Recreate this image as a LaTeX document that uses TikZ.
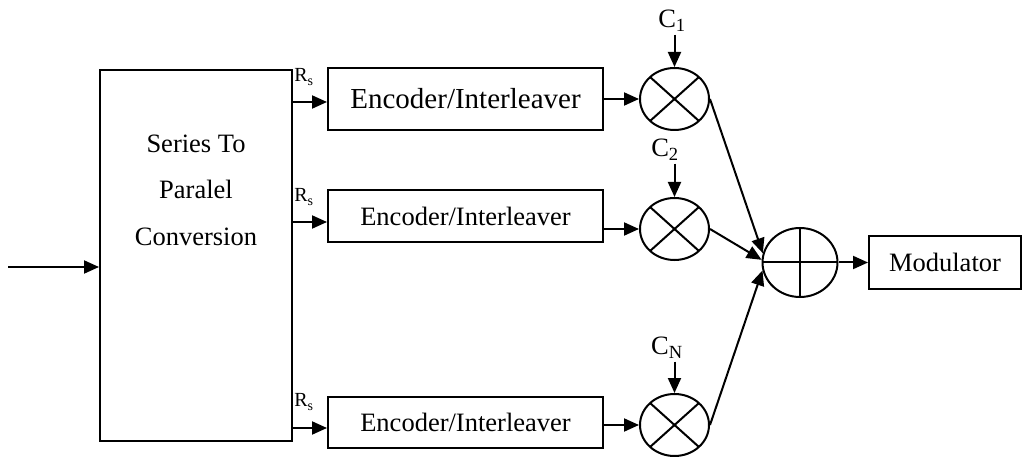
\documentclass[tikz,border=0pt]{standalone}
\usepackage{fontspec}
\setmainfont{Liberation Serif}
\usetikzlibrary{shapes.geometric, arrows.meta}

\begin{document}
\begin{tikzpicture}[x=1pt, y=-1pt, line width=2pt,
    font=\fontsize{26.5}{32}\selectfont,
    >={Triangle[length=15pt, width=13pt]},
    block/.style={draw, rectangle, inner sep=0pt},
    mixer/.style={draw, ellipse, inner sep=0pt,
            minimum width=69pt, minimum height=62pt,
            path picture={
                \draw (path picture bounding box.north west) -- (path picture bounding box.south east)
                      (path picture bounding box.north east) -- (path picture bounding box.south west);}},
    adder/.style={draw, ellipse, inner sep=0pt,
            minimum width=75pt, minimum height=69pt,
            path picture={
                \draw (path picture bounding box.north) -- (path picture bounding box.south)
                      (path picture bounding box.west) -- (path picture bounding box.east);}},
    rate/.style={font=\fontsize{20}{24}\selectfont, inner sep=0pt},
    code/.style={inner sep=2pt}]

    \useasboundingbox (0,0) rectangle (1026,457);

    \node[  block, 
            minimum width=192pt, 
            minimum height=371pt] (sp) at (196, 255.5) 
            { };
    \node[align=center, font=\fontsize{26.5}{46.5}\selectfont] (sptext) at (196, 190) 
            {Series To\\Paralel\\Conversion};

    \node[block, minimum width=275pt, minimum height=62pt, font=\fontsize{29}{34}\selectfont] (enc1) at (465.5, 99) {Encoder/Interleaver};
    \node[block, minimum width=275pt, minimum height=52pt] (enc2) at (465.5, 216) {Encoder/Interleaver};
    \node[block, minimum width=275pt, minimum height=51pt] (enc3) at (465.5, 422.5) {Encoder/Interleaver};

    \node[mixer] (m1) at (674.5, 99) {};
    \node[mixer] (m2) at (674.5, 229) {};
    \node[mixer] (m3) at (674.5, 425) {};

    \node[adder] (sum) at (800, 262.5) {};
    \node[block, minimum width=152pt, minimum height=53pt] (mod) at (945, 262.5) {Modulator};

    \node[code] (c1) at (672, 21) {C\textsubscript{1}};
    \node[code] (c2) at (665, 150) {C\textsubscript{2}};
    \node[code] (cN) at (667, 348) {C\textsubscript{N}};

    \node[rate] (r1) at (304, 77) {R\textsubscript{s}};
    \node[rate] (r2) at (304, 197) {R\textsubscript{s}};
    \node[rate] (r3) at (304, 402) {R\textsubscript{s}};

    \coordinate (in) at (8, 267);
    \coordinate (p1) at ([yshift=-3pt]enc1.west);
    \coordinate (p2) at ([yshift=-6pt]enc2.west);
    \coordinate (p3) at ([yshift=-5.5pt]enc3.west);

    \draw[->] (in) -- (in -| sp.west);
    \draw[->] (sp.east |- p1) -- (p1);
    \draw[->] (sp.east |- p2) -- (p2);
    \draw[->] (sp.east |- p3) -- (p3);

    \draw[->] (enc1.east) -- (m1.west);
    \draw[->] (enc2.east |- m2.west) -- (m2.west);
    \draw[->] (enc3.east |- m3.west) -- (m3.west);

    \draw[->] (m1.north |- c1.south) -- (m1.north);
    \draw[->] (m2.north |- c2.south) -- (m2.north);
    \draw[->] (m3.north |- cN.south) -- (m3.north);

    \draw[->] (m1.east) -- (sum.166);
    \draw[->] (m2.east) -- (sum.176);
    \draw[->] (m3.east) -- (sum.192);
    \draw[->] (sum.east) -- (mod.west);

\end{tikzpicture}
\end{document}
